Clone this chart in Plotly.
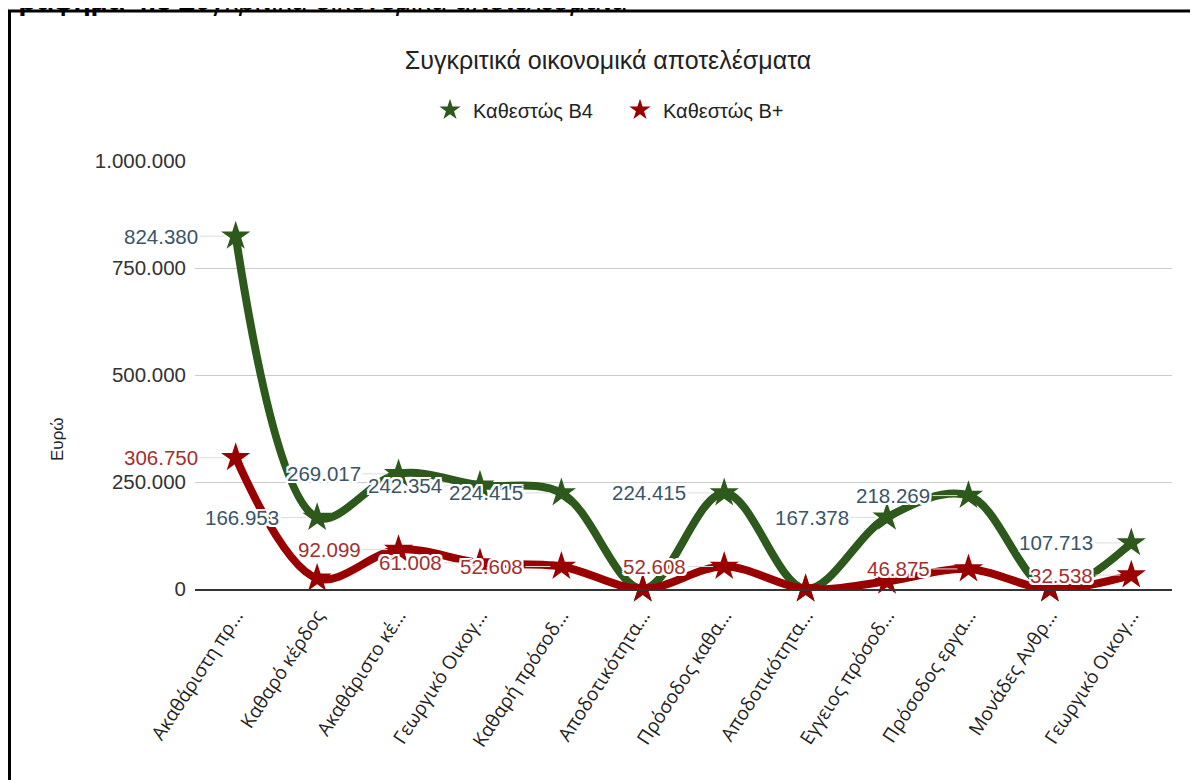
import plotly.graph_objects as go

categories = ["Ακαθάριστη πρ...", "Καθαρό κέρδος", "Ακαθάριστο κέ...", "Γεωργικό Οικογ...",
              "Καθαρή πρόσοδ...", "Αποδοτικότητα...", "Πρόσοδος καθα...", "Αποδοτικότητα...",
              "Εγγειος πρόσοδ...", "Πρόσοδος εργα...", "Μονάδες Ανθρ...", "Γεωργικό Οικογ..."]
status_b4 = [824380, 166953, 269017, 242354, 224415, 12, 224415, 15, 167378, 218269, 2, 107713]
status_bplus = [306750, 25000, 92099, 61008, 52608, 8, 52608, 10, 18000, 46875, 2, 32538]
y_ticks = [0, 250000, 500000, 750000, 1000000]

GREEN = '#2d5a1c'
RED = '#990000'
GREEN_LBL = '#3a5568'
RED_LBL = '#a3302f'
FONT = 'Liberation Sans, Arial'

W, H = 1198, 780
OFF = 8  # the page body has an 8px margin, positions below are in page pixels minus this
ML, MT = 195 - OFF, 161 - OFF
MR, MB = W - (1172 - OFF), H - (589 - OFF)
pw = W - ML - MR
ph = H - MT - MB


def px_x(x):
    # page pixel -> paper x
    return (x - OFF - ML) / pw


def px_y(y):
    # page pixel -> paper y
    return (H - MB - (y - OFF)) / ph


xs = list(range(len(categories)))
halo = ('-2px -2px 0 #fff, 2px -2px 0 #fff, -2px 2px 0 #fff, 2px 2px 0 #fff, '
        '0 2px 0 #fff, 0 -2px 0 #fff, 2px 0 0 #fff, -2px 0 0 #fff')

fig = go.Figure()
for name, vals, col in [('Καθεστώς Β4', status_b4, GREEN),
                        ('Καθεστώς Β+', status_bplus, RED)]:
    fig.add_trace(go.Scatter(x=xs, y=vals, mode='lines+markers', name=name,
                             line=dict(color=col, width=8, shape='spline', smoothing=1.0),
                             marker=dict(symbol='star', size=22, color=col,
                                         line=dict(width=0)),
                             cliponaxis=False, showlegend=False, hoverinfo='skip'))
    # legend entry: star only
    fig.add_trace(go.Scatter(x=[None], y=[None], mode='markers', name=name,
                             marker=dict(symbol='star', size=20, color=col)))

annotations = []
for vals, col in [(status_b4, GREEN_LBL), (status_bplus, RED_LBL)]:
    for i, v in zip(xs, vals):
        if v < 30000:
            continue
        annotations.append(dict(
            x=i, y=v, xref='x', yref='y',
            text='{:,}'.format(v).replace(',', '.'),
            showarrow=True, arrowhead=0, arrowwidth=1, arrowcolor='#dcdcdc',
            ax=-36, ay=0, standoff=11, xanchor='right', yanchor='middle',
            font=dict(family=FONT, size=20.5, color=col, shadow=halo),
        ))

# heading of the page, mostly cut off at the top
annotations.append(dict(
    x=px_x(0), y=px_y(18), xref='paper', yref='paper',
    xanchor='left', yanchor='bottom', showarrow=False,
    text='<b>Γράφημα 4.3</b> <i>Συγκριτικά οικονομικά αποτελέσματα</i>',
    font=dict(family=FONT, size=28, color='#000'),
))
# y axis title
annotations.append(dict(
    x=px_x(57), y=px_y(439), xref='paper', yref='paper', showarrow=False,
    text='Ευρώ', textangle=-90, xanchor='center', yanchor='middle',
    font=dict(family=FONT, size=17, color='#222'),
))

fig.update_layout(
    width=W, height=H,
    margin=dict(l=ML, r=MR, t=MT, b=MB),
    paper_bgcolor='white', plot_bgcolor='white',
    separators=',.',
    title=dict(text='Συγκριτικά οικονομικά αποτελέσματα', x=(608 - OFF) / W, xanchor='center',
               y=1 - (60 - OFF) / H, yanchor='middle', xref='container', yref='container',
               font=dict(family=FONT, size=25, color='#222')),
    legend=dict(orientation='h', x=px_x(427), xanchor='left',
                y=px_y(110), yanchor='middle',
                font=dict(family=FONT, size=20, color='#222'),
                entrywidth=139, entrywidthmode='pixels', itemwidth=36),
    xaxis=dict(range=[-0.5, len(categories) - 0.5], tickmode='array', tickvals=xs,
               ticktext=categories, tickangle=-57, showgrid=False, zeroline=False,
               showline=True, linecolor='#333', linewidth=2,
               tickfont=dict(family='Open Sans, Noto Sans', size=19, color='#222'),
               ticklabelstandoff=6),
    yaxis=dict(range=[0, 1000000], tickmode='array', tickvals=y_ticks, tickformat=',d',
               showgrid=True, gridcolor='#cccccc', gridwidth=1, zeroline=False,
               showline=False, ticklabelstandoff=8,
               tickfont=dict(family=FONT, size=20.5, color='#333')),
    annotations=annotations,
    shapes=[dict(type='rect', xref='paper', yref='paper',
                 x0=px_x(9.5), x1=px_x(W + 30),
                 y0=px_y(H + 30), y1=px_y(11),
                 line=dict(color='#000', width=3), fillcolor='rgba(0,0,0,0)')],
)

fig.write_html("out.html")
